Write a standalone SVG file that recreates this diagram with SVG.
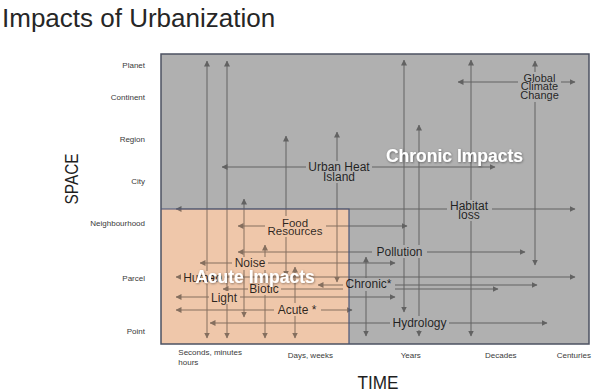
<svg xmlns="http://www.w3.org/2000/svg" width="600" height="392" viewBox="0 0 600 392">
<style>
.lbl{font-family:"Liberation Sans",Arial,sans-serif;font-size:12px;fill:#000;fill-opacity:0.82;text-anchor:middle}
.ax{font-family:"Liberation Sans",Arial,sans-serif;font-size:8px;fill:#3a3a3a}
.big{font-family:"Liberation Sans",Arial,sans-serif;font-size:17.5px;font-weight:bold;fill:#fff;text-anchor:middle;filter:url(#sh)}
.ln{stroke:#000;stroke-width:1;fill:none;marker-start:url(#ah);marker-end:url(#ah)}
</style>
<defs>
<marker id="ah" markerUnits="userSpaceOnUse" markerWidth="6" markerHeight="6" refX="5.5" refY="3" orient="auto-start-reverse">
<path d="M0,0 L6,3 L0,6 z" fill="#000"/>
</marker>
<filter id="sh" x="-10%" y="-30%" width="120%" height="160%">
<feDropShadow dx="0.6" dy="0.8" stdDeviation="0.8" flood-color="#000" flood-opacity="0.45"/>
</filter>
<mask id="lm" maskUnits="userSpaceOnUse" x="0" y="0" width="600" height="392">
<rect x="0" y="0" width="600" height="392" fill="#fff"/>
<g fill="#000">
<rect x="306" y="161" width="66" height="22"/>
<rect x="518" y="72" width="43" height="30"/>
<rect x="447" y="200" width="45" height="21"/>
<rect x="265" y="216" width="61" height="21"/>
<rect x="372" y="245" width="55" height="13"/>
<rect x="232" y="257" width="36" height="13"/>
<rect x="181" y="271" width="43" height="13"/>
<rect x="343" y="278" width="52" height="13"/>
<rect x="248" y="283" width="33" height="12"/>
<rect x="209" y="291" width="31" height="13"/>
<rect x="274" y="303" width="47" height="13"/>
<rect x="390" y="316" width="59" height="14"/>
</g>
</mask>
</defs>
<rect width="600" height="392" fill="#fff"/>
<text x="2" y="27" font-family="'Liberation Sans',Arial,sans-serif" font-size="26" fill="#262626">Impacts of Urbanization</text>

<g id="plot">
<rect x="161" y="54" width="428" height="290" fill="#b0b0b0"/>
<rect x="161" y="209" width="188" height="135" fill="#efc7aa"/>
</g>

<g id="connectors" opacity="0.44" mask="url(#lm)">
<line class="ln" x1="207" y1="61" x2="207" y2="338"/>
<line class="ln" x1="227" y1="61" x2="227" y2="338"/>
<line class="ln" x1="244" y1="199" x2="244" y2="317"/>
<line class="ln" x1="265" y1="245" x2="265" y2="338"/>
<line class="ln" x1="286" y1="136" x2="286" y2="276"/>
<line class="ln" x1="295" y1="267" x2="295" y2="338"/>
<line class="ln" x1="337" y1="132" x2="337" y2="282"/>
<line class="ln" x1="366" y1="257" x2="366" y2="336"/>
<line class="ln" x1="404" y1="60" x2="404" y2="312"/>
<line class="ln" x1="419" y1="125" x2="419" y2="336"/>
<line class="ln" x1="471" y1="60" x2="471" y2="336"/>
<line class="ln" x1="535" y1="61" x2="535" y2="265"/>
<line class="ln" x1="458" y1="82" x2="575" y2="82"/>
<line class="ln" x1="222" y1="167" x2="495" y2="167"/>
<line class="ln" x1="176" y1="209" x2="575" y2="209"/>
<line class="ln" x1="238" y1="226" x2="407" y2="226"/>
<line class="ln" x1="238" y1="252" x2="525" y2="252"/>
<line class="ln" x1="200" y1="263" x2="395" y2="263"/>
<line class="ln" x1="176" y1="277" x2="575" y2="277"/>
<line class="ln" x1="318" y1="285" x2="537" y2="285"/>
<line class="ln" x1="223" y1="289" x2="498" y2="289"/>
<line class="ln" x1="176" y1="297" x2="395" y2="297"/>
<line class="ln" x1="176" y1="310" x2="352" y2="310"/>
<line class="ln" x1="210" y1="323" x2="547" y2="323"/>
</g>

<g id="frame" fill="none">
<rect x="161" y="54" width="428" height="290" stroke="#4c5262" stroke-width="1.5"/>
<path d="M161,209 H349 V344" stroke="#4a5578" stroke-width="1.2"/>
</g>

<g id="n-urban-heat"><text class="lbl" x="339" y="171">Urban Heat</text><text class="lbl" x="339" y="181">Island</text></g>
<g id="n-gcc"><text class="lbl" style="font-size:11px" x="539.5" y="81.5">Global</text><text class="lbl" style="font-size:11px" x="539.5" y="90.3">Climate</text><text class="lbl" style="font-size:11px" x="539.5" y="99">Change</text></g>
<g id="n-habitat"><text class="lbl" x="469" y="209.5">Habitat</text><text class="lbl" x="469" y="219">loss</text></g>
<g id="n-food"><text class="lbl" style="font-size:11.5px" x="295" y="226.5">Food</text><text class="lbl" style="font-size:11.5px" x="295" y="235">Resources</text></g>
<g id="n-pollution"><text class="lbl" x="399.5" y="255.5">Pollution</text></g>
<g id="n-noise"><text class="lbl" x="250" y="267">Noise</text></g>
<g id="n-human"><text class="lbl" x="202.5" y="281.5">Human</text></g>
<g id="n-chronic"><text class="lbl" x="368.5" y="287.5">Chronic*</text></g>
<g id="n-biotic"><text class="lbl" x="264" y="293">Biotic</text></g>
<g id="n-light"><text class="lbl" x="224" y="301.5">Light</text></g>
<g id="n-acute"><text class="lbl" x="297" y="313.5">Acute *</text></g>
<g id="n-hydrology"><text class="lbl" x="419.5" y="326.5">Hydrology</text></g>

<g id="n-chronic-impacts"><text class="big" x="454.5" y="162">Chronic Impacts</text></g>
<g id="n-acute-impacts"><text class="big" x="255" y="283">Acute Impacts</text></g>

<g id="y-axis">
<text class="ax" x="145" y="67.5" text-anchor="end">Planet</text>
<text class="ax" x="145" y="99.5" text-anchor="end">Continent</text>
<text class="ax" x="145" y="142" text-anchor="end">Region</text>
<text class="ax" x="145" y="184" text-anchor="end">City</text>
<text class="ax" x="145" y="226" text-anchor="end">Neighbourhood</text>
<text class="ax" x="145" y="281" text-anchor="end">Parcel</text>
<text class="ax" x="145" y="334" text-anchor="end">Point</text>
</g>
<g id="x-axis">
<text class="ax" x="178.3" y="355">Seconds, minutes</text>
<text class="ax" x="178.3" y="365">hours</text>
<text class="ax" x="287.7" y="358">Days, weeks</text>
<text class="ax" x="400.7" y="358">Years</text>
<text class="ax" x="485" y="358">Decades</text>
<text class="ax" x="556.7" y="358">Centuries</text>
</g>
<text x="378" y="388.5" font-family="'Liberation Sans',Arial,sans-serif" font-size="17.5" fill="#1e1e1e" text-anchor="middle" textLength="41" lengthAdjust="spacingAndGlyphs">TIME</text>
<text transform="translate(78,179) rotate(-90)" font-family="'Liberation Sans',Arial,sans-serif" font-size="18" fill="#1e1e1e" text-anchor="middle" textLength="51" lengthAdjust="spacingAndGlyphs">SPACE</text>
</svg>
